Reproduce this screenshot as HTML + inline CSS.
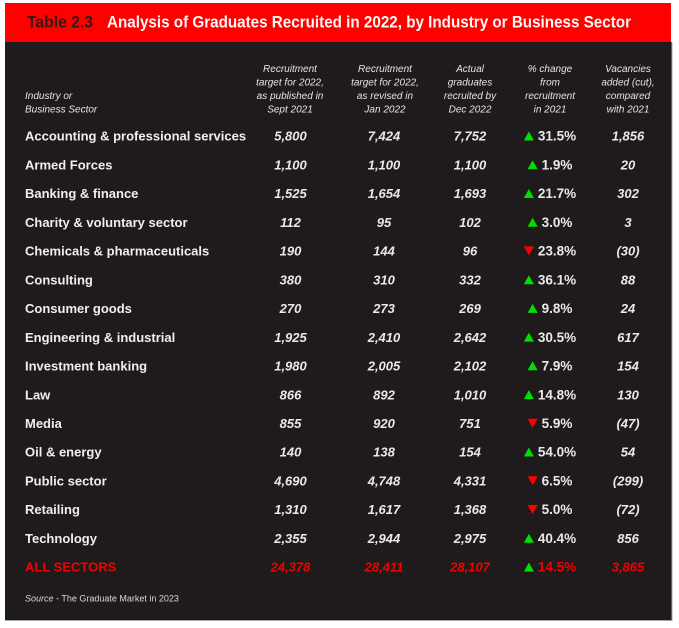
<!DOCTYPE html>
<html>
<head>
<meta charset="utf-8">
<style>
html,body{margin:0;padding:0;background:#ffffff;}
body{width:679px;height:628px;overflow:hidden;}
svg{display:block;}
text{font-family:"Liberation Sans",sans-serif;}
.lbl{font-size:13px;font-weight:bold;fill:#efefef;}
.num{font-size:13px;font-weight:bold;font-style:italic;fill:#e9e9e9;text-anchor:middle;}
.pct{font-size:13.5px;font-weight:bold;fill:#e9e9e9;}
.hd{font-size:10px;font-style:italic;fill:#e4e4e4;text-anchor:middle;}
.hdl{font-size:10px;font-style:italic;fill:#e4e4e4;}
.red{fill:#f20000;}
.up{fill:#00e000;}
.dn{fill:#ff0000;}
</style>
</head>
<body>
<svg width="679" height="628" viewBox="0 0 679 628" xmlns="http://www.w3.org/2000/svg">
  <!-- panels -->
  <rect x="5" y="3" width="666" height="39" fill="#ff0000"/>
  <rect x="5" y="42" width="667" height="578" fill="#1f1b1c"/>
  <line x1="672" y1="42" x2="672" y2="621" stroke="#a8a8a8" stroke-width="1"/>
  <line x1="5" y1="620.5" x2="672" y2="620.5" stroke="#a8a8a8" stroke-width="1"/>

  <!-- title -->
  <text x="27" y="27.5" font-size="17" font-weight="bold" fill="#3b1416" textLength="66" lengthAdjust="spacingAndGlyphs">Table 2.3</text>
  <text x="107" y="27.5" font-size="17" font-weight="bold" fill="#fff6f6" textLength="524" lengthAdjust="spacingAndGlyphs">Analysis of Graduates Recruited in 2022, by Industry or Business Sector</text>

  <!-- header -->
  <text class="hdl" x="25" y="99">Industry or</text>
  <text class="hdl" x="25" y="112.5">Business Sector</text>

  <text class="hd" x="290" y="72">Recruitment</text>
  <text class="hd" x="290" y="85.5">target for 2022,</text>
  <text class="hd" x="290" y="99">as published in</text>
  <text class="hd" x="290" y="112.5">Sept 2021</text>

  <text class="hd" x="385" y="72">Recruitment</text>
  <text class="hd" x="385" y="85.5">target for 2022,</text>
  <text class="hd" x="385" y="99">as revised in</text>
  <text class="hd" x="385" y="112.5">Jan 2022</text>

  <text class="hd" x="470" y="72">Actual</text>
  <text class="hd" x="470" y="85.5">graduates</text>
  <text class="hd" x="470" y="99">recruited by</text>
  <text class="hd" x="470" y="112.5">Dec 2022</text>

  <text class="hd" x="550" y="72">% change</text>
  <text class="hd" x="550" y="85.5">from</text>
  <text class="hd" x="550" y="99">recruitment</text>
  <text class="hd" x="550" y="112.5">in 2021</text>

  <text class="hd" x="628" y="72">Vacancies</text>
  <text class="hd" x="628" y="85.5">added (cut),</text>
  <text class="hd" x="628" y="99">compared</text>
  <text class="hd" x="628" y="112.5">with 2021</text>

  <!-- row 0 c=136 -->
  <text class="lbl" x="25" y="140.7">Accounting &amp; professional services</text>
  <text class="num" x="290.5" y="140.7">5,800</text>
  <text class="num" x="384" y="140.7">7,424</text>
  <text class="num" x="470" y="140.7">7,752</text>
  <polygon class="up" points="523.9,140.5 533.9,140.5 528.9,131.5"/>
  <text class="pct" x="537.9" y="140.7">31.5%</text>
  <text class="num" x="628" y="140.7">1,856</text>

  <!-- row 1 c=164.7 -->
  <text class="lbl" x="25" y="169.4">Armed Forces</text>
  <text class="num" x="290.5" y="169.4">1,100</text>
  <text class="num" x="384" y="169.4">1,100</text>
  <text class="num" x="470" y="169.4">1,100</text>
  <polygon class="up" points="527.6,169.2 537.6,169.2 532.6,160.2"/>
  <text class="pct" x="541.6" y="169.4">1.9%</text>
  <text class="num" x="628" y="169.4">20</text>

  <!-- row 2 c=193.5 -->
  <text class="lbl" x="25" y="198.2">Banking &amp; finance</text>
  <text class="num" x="290.5" y="198.2">1,525</text>
  <text class="num" x="384" y="198.2">1,654</text>
  <text class="num" x="470" y="198.2">1,693</text>
  <polygon class="up" points="523.9,198 533.9,198 528.9,189"/>
  <text class="pct" x="537.9" y="198.2">21.7%</text>
  <text class="num" x="628" y="198.2">302</text>

  <!-- row 3 c=222.2 -->
  <text class="lbl" x="25" y="226.9">Charity &amp; voluntary sector</text>
  <text class="num" x="290.5" y="226.9">112</text>
  <text class="num" x="384" y="226.9">95</text>
  <text class="num" x="470" y="226.9">102</text>
  <polygon class="up" points="527.6,226.7 537.6,226.7 532.6,217.7"/>
  <text class="pct" x="541.6" y="226.9">3.0%</text>
  <text class="num" x="628" y="226.9">3</text>

  <!-- row 4 c=250.9 -->
  <text class="lbl" x="25" y="255.6">Chemicals &amp; pharmaceuticals</text>
  <text class="num" x="290.5" y="255.6">190</text>
  <text class="num" x="384" y="255.6">144</text>
  <text class="num" x="470" y="255.6">96</text>
  <polygon class="dn" points="523.9,246.4 533.9,246.4 528.9,255.4"/>
  <text class="pct" x="537.9" y="255.6">23.8%</text>
  <text class="num" x="628" y="255.6">(30)</text>

  <!-- row 5 c=279.7 -->
  <text class="lbl" x="25" y="284.4">Consulting</text>
  <text class="num" x="290.5" y="284.4">380</text>
  <text class="num" x="384" y="284.4">310</text>
  <text class="num" x="470" y="284.4">332</text>
  <polygon class="up" points="523.9,284.2 533.9,284.2 528.9,275.2"/>
  <text class="pct" x="537.9" y="284.4">36.1%</text>
  <text class="num" x="628" y="284.4">88</text>

  <!-- row 6 c=308.4 -->
  <text class="lbl" x="25" y="313.1">Consumer goods</text>
  <text class="num" x="290.5" y="313.1">270</text>
  <text class="num" x="384" y="313.1">273</text>
  <text class="num" x="470" y="313.1">269</text>
  <polygon class="up" points="527.6,312.9 537.6,312.9 532.6,303.9"/>
  <text class="pct" x="541.6" y="313.1">9.8%</text>
  <text class="num" x="628" y="313.1">24</text>

  <!-- row 7 c=337.1 -->
  <text class="lbl" x="25" y="341.8">Engineering &amp; industrial</text>
  <text class="num" x="290.5" y="341.8">1,925</text>
  <text class="num" x="384" y="341.8">2,410</text>
  <text class="num" x="470" y="341.8">2,642</text>
  <polygon class="up" points="523.9,341.6 533.9,341.6 528.9,332.6"/>
  <text class="pct" x="537.9" y="341.8">30.5%</text>
  <text class="num" x="628" y="341.8">617</text>

  <!-- row 8 c=365.8 -->
  <text class="lbl" x="25" y="370.5">Investment banking</text>
  <text class="num" x="290.5" y="370.5">1,980</text>
  <text class="num" x="384" y="370.5">2,005</text>
  <text class="num" x="470" y="370.5">2,102</text>
  <polygon class="up" points="527.6,370.3 537.6,370.3 532.6,361.3"/>
  <text class="pct" x="541.6" y="370.5">7.9%</text>
  <text class="num" x="628" y="370.5">154</text>

  <!-- row 9 c=394.6 -->
  <text class="lbl" x="25" y="399.3">Law</text>
  <text class="num" x="290.5" y="399.3">866</text>
  <text class="num" x="384" y="399.3">892</text>
  <text class="num" x="470" y="399.3">1,010</text>
  <polygon class="up" points="523.9,399.1 533.9,399.1 528.9,390.1"/>
  <text class="pct" x="537.9" y="399.3">14.8%</text>
  <text class="num" x="628" y="399.3">130</text>

  <!-- row 10 c=423.3 -->
  <text class="lbl" x="25" y="428">Media</text>
  <text class="num" x="290.5" y="428">855</text>
  <text class="num" x="384" y="428">920</text>
  <text class="num" x="470" y="428">751</text>
  <polygon class="dn" points="527.6,418.8 537.6,418.8 532.6,427.8"/>
  <text class="pct" x="541.6" y="428">5.9%</text>
  <text class="num" x="628" y="428">(47)</text>

  <!-- row 11 c=452 -->
  <text class="lbl" x="25" y="456.7">Oil &amp; energy</text>
  <text class="num" x="290.5" y="456.7">140</text>
  <text class="num" x="384" y="456.7">138</text>
  <text class="num" x="470" y="456.7">154</text>
  <polygon class="up" points="523.9,456.5 533.9,456.5 528.9,447.5"/>
  <text class="pct" x="537.9" y="456.7">54.0%</text>
  <text class="num" x="628" y="456.7">54</text>

  <!-- row 12 c=480.8 -->
  <text class="lbl" x="25" y="485.5">Public sector</text>
  <text class="num" x="290.5" y="485.5">4,690</text>
  <text class="num" x="384" y="485.5">4,748</text>
  <text class="num" x="470" y="485.5">4,331</text>
  <polygon class="dn" points="527.6,476.3 537.6,476.3 532.6,485.3"/>
  <text class="pct" x="541.6" y="485.5">6.5%</text>
  <text class="num" x="628" y="485.5">(299)</text>

  <!-- row 13 c=509.5 -->
  <text class="lbl" x="25" y="514.2">Retailing</text>
  <text class="num" x="290.5" y="514.2">1,310</text>
  <text class="num" x="384" y="514.2">1,617</text>
  <text class="num" x="470" y="514.2">1,368</text>
  <polygon class="dn" points="527.6,505 537.6,505 532.6,514"/>
  <text class="pct" x="541.6" y="514.2">5.0%</text>
  <text class="num" x="628" y="514.2">(72)</text>

  <!-- row 14 c=538.2 -->
  <text class="lbl" x="25" y="542.9">Technology</text>
  <text class="num" x="290.5" y="542.9">2,355</text>
  <text class="num" x="384" y="542.9">2,944</text>
  <text class="num" x="470" y="542.9">2,975</text>
  <polygon class="up" points="523.9,542.7 533.9,542.7 528.9,533.7"/>
  <text class="pct" x="537.9" y="542.9">40.4%</text>
  <text class="num" x="628" y="542.9">856</text>

  <!-- row 15 c=567 -->
  <text class="lbl red" x="25" y="571.7">ALL SECTORS</text>
  <text class="num red" x="290.5" y="571.7">24,378</text>
  <text class="num red" x="384" y="571.7">28,411</text>
  <text class="num red" x="470" y="571.7">28,107</text>
  <polygon class="up" points="523.9,571.5 533.9,571.5 528.9,562.5"/>
  <text class="pct red" x="537.9" y="571.7">14.5%</text>
  <text class="num red" x="628" y="571.7">3,865</text>

  <!-- source -->
  <text x="25" y="601.5" font-size="9" fill="#d8d8d8"><tspan font-style="italic">Source</tspan> - The Graduate Market in 2023</text>
</svg>
</body>
</html>
